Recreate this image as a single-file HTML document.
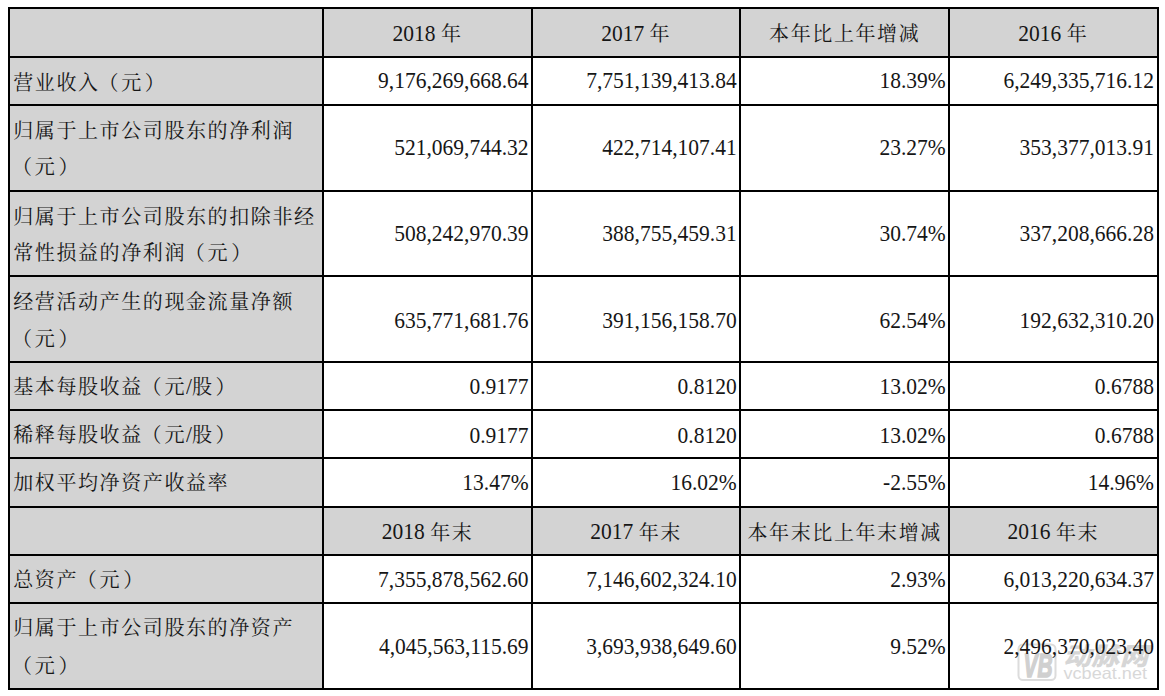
<!DOCTYPE html>
<html lang="zh-CN">
<head>
<meta charset="utf-8">
<title>主要会计数据和财务指标</title>
<style>
html,body{margin:0;padding:0;background:#fff;}
body{width:1165px;height:696px;position:relative;overflow:hidden;
 font-family:"Liberation Serif","Noto Serif CJK SC",serif;font-size:21.5px;color:#161616;}
.g{position:absolute;background:#d3d3d3;}
.l{position:absolute;background:#000;}
.t{position:absolute;white-space:nowrap;line-height:24px;height:24px;}
.c{text-align:center;}
.r{text-align:right;}
.n{display:inline-block;line-height:24px;transform:scaleY(1.06);transform-origin:0 19.26px;}
.z{font-size:20px;letter-spacing:1.6px;}
.pl{position:relative;left:-1.2px;}
.pr{position:relative;left:2px;}
.h .z{position:relative;top:0.4px;}
.h0 .z{top:-0.3px;}
</style>
</head>
<body>
<div class="g" style="left:8px;top:7px;width:314.1px;height:683px"></div>
<div class="g" style="left:8px;top:7px;width:1150.5px;height:49px"></div>
<div class="g" style="left:8px;top:506px;width:1150.5px;height:48px"></div>
<div class="l" style="left:8px;top:7px;width:2px;height:683px"></div>
<div class="l" style="left:322.1px;top:7px;width:2px;height:683px"></div>
<div class="l" style="left:531.1px;top:7px;width:2px;height:683px"></div>
<div class="l" style="left:739.2px;top:7px;width:2px;height:683px"></div>
<div class="l" style="left:948.2px;top:7px;width:2px;height:683px"></div>
<div class="l" style="left:1156.5px;top:7px;width:2px;height:683px"></div>
<div class="l" style="left:8px;top:7px;width:1150.5px;height:2px"></div>
<div class="l" style="left:8px;top:56px;width:1150.5px;height:2px"></div>
<div class="l" style="left:8px;top:104px;width:1150.5px;height:2px"></div>
<div class="l" style="left:8px;top:190px;width:1150.5px;height:2px"></div>
<div class="l" style="left:8px;top:275px;width:1150.5px;height:2px"></div>
<div class="l" style="left:8px;top:361px;width:1150.5px;height:2px"></div>
<div class="l" style="left:8px;top:409px;width:1150.5px;height:2px"></div>
<div class="l" style="left:8px;top:457px;width:1150.5px;height:2px"></div>
<div class="l" style="left:8px;top:506px;width:1150.5px;height:2px"></div>
<div class="l" style="left:8px;top:554px;width:1150.5px;height:2px"></div>
<div class="l" style="left:8px;top:602px;width:1150.5px;height:2px"></div>
<div class="l" style="left:8px;top:688px;width:1150.5px;height:2px"></div>
<svg class="wm" style="position:absolute;left:1012px;top:638px" width="146" height="48" viewBox="0 0 146 48">
<rect x="6.5" y="6.5" width="37" height="35.5" rx="4.5" ry="4.5" fill="none" stroke="#dcdcdc" stroke-width="2"/>
<text x="26" y="38.5" text-anchor="middle" font-family="'Liberation Sans',sans-serif" font-weight="bold" font-style="italic" font-size="33" textLength="29" lengthAdjust="spacingAndGlyphs" fill="#d0d0d0" stroke="#d0d0d0" stroke-width="1.6">VB</text>
<text x="51" y="26.5" font-family="'Noto Sans CJK SC','WenQuanYi Zen Hei',sans-serif" font-weight="900" font-style="italic" font-size="25" textLength="85" lengthAdjust="spacingAndGlyphs" fill="#d6d6d6">动脉网</text>
<text x="51.5" y="40.5" font-family="'Liberation Sans',sans-serif" font-size="16.5" textLength="83.5" lengthAdjust="spacingAndGlyphs" fill="#d8d8d8">vcbeat.net</text>
</svg>
<div class="t c h h0" style="left:324.1px;width:207px;top:22.14px"><span class="n">2018&nbsp;</span><span class="z">年</span></div>
<div class="t c h h0" style="left:533.1px;width:206.1px;top:22.14px"><span class="n">2017&nbsp;</span><span class="z">年</span></div>
<div class="t c h h0" style="left:741.2px;width:207px;top:22.14px"><span class="z">本年比上年增减</span></div>
<div class="t c h h0" style="left:950.2px;width:206.3px;top:22.14px"><span class="n">2016&nbsp;</span><span class="z">年</span></div>
<div class="t" style="left:13.2px;top:70.84px"><span class="z">营业收入<span class="pl">（</span>元<span class="pr">）</span></span></div>
<div class="t r" style="left:324.1px;width:204.5px;top:69.44px"><span class="n">9,176,269,668.64</span></div>
<div class="t r" style="left:533.1px;width:203.6px;top:69.44px"><span class="n">7,751,139,413.84</span></div>
<div class="t r" style="left:741.2px;width:204.5px;top:69.44px"><span class="n">18.39%</span></div>
<div class="t r" style="left:950.2px;width:203.8px;top:69.44px"><span class="n">6,249,335,716.12</span></div>
<div class="t" style="left:13.2px;top:118.59px"><span class="z">归属于上市公司股东的净利润</span></div>
<div class="t" style="left:13.2px;top:154.79px"><span class="z"><span class="pl">（</span>元<span class="pr">）</span></span></div>
<div class="t r" style="left:324.1px;width:204.5px;top:136.34px"><span class="n">521,069,744.32</span></div>
<div class="t r" style="left:533.1px;width:203.6px;top:136.34px"><span class="n">422,714,107.41</span></div>
<div class="t r" style="left:741.2px;width:204.5px;top:136.34px"><span class="n">23.27%</span></div>
<div class="t r" style="left:950.2px;width:203.8px;top:136.34px"><span class="n">353,377,013.91</span></div>
<div class="t" style="left:13.2px;top:204.69px"><span class="z">归属于上市公司股东的扣除非经</span></div>
<div class="t" style="left:13.2px;top:241.49px"><span class="z">常性损益的净利润<span class="pl">（</span>元<span class="pr">）</span></span></div>
<div class="t r" style="left:324.1px;width:204.5px;top:222.24px"><span class="n">508,242,970.39</span></div>
<div class="t r" style="left:533.1px;width:203.6px;top:222.24px"><span class="n">388,755,459.31</span></div>
<div class="t r" style="left:741.2px;width:204.5px;top:222.24px"><span class="n">30.74%</span></div>
<div class="t r" style="left:950.2px;width:203.8px;top:222.24px"><span class="n">337,208,666.28</span></div>
<div class="t" style="left:13.2px;top:289.89px"><span class="z">经营活动产生的现金流量净额</span></div>
<div class="t" style="left:13.2px;top:326.99px"><span class="z"><span class="pl">（</span>元<span class="pr">）</span></span></div>
<div class="t r" style="left:324.1px;width:204.5px;top:308.74px"><span class="n">635,771,681.76</span></div>
<div class="t r" style="left:533.1px;width:203.6px;top:308.74px"><span class="n">391,156,158.70</span></div>
<div class="t r" style="left:741.2px;width:204.5px;top:308.74px"><span class="n">62.54%</span></div>
<div class="t r" style="left:950.2px;width:203.8px;top:308.74px"><span class="n">192,632,310.20</span></div>
<div class="t" style="left:13.2px;top:375.04px"><span class="z">基本每股收益<span class="pl">（</span>元</span><span class="n">/</span><span class="z">股<span class="pr">）</span></span></div>
<div class="t r" style="left:324.1px;width:204.5px;top:375.44px"><span class="n">0.9177</span></div>
<div class="t r" style="left:533.1px;width:203.6px;top:375.44px"><span class="n">0.8120</span></div>
<div class="t r" style="left:741.2px;width:204.5px;top:375.44px"><span class="n">13.02%</span></div>
<div class="t r" style="left:950.2px;width:203.8px;top:375.44px"><span class="n">0.6788</span></div>
<div class="t" style="left:13.2px;top:422.84px"><span class="z">稀释每股收益<span class="pl">（</span>元</span><span class="n">/</span><span class="z">股<span class="pr">）</span></span></div>
<div class="t r" style="left:324.1px;width:204.5px;top:423.54px"><span class="n">0.9177</span></div>
<div class="t r" style="left:533.1px;width:203.6px;top:423.54px"><span class="n">0.8120</span></div>
<div class="t r" style="left:741.2px;width:204.5px;top:423.54px"><span class="n">13.02%</span></div>
<div class="t r" style="left:950.2px;width:203.8px;top:423.54px"><span class="n">0.6788</span></div>
<div class="t" style="left:13.2px;top:471.04px"><span class="z">加权平均净资产收益率</span></div>
<div class="t r" style="left:324.1px;width:204.5px;top:471.04px"><span class="n">13.47%</span></div>
<div class="t r" style="left:533.1px;width:203.6px;top:471.04px"><span class="n">16.02%</span></div>
<div class="t r" style="left:741.2px;width:204.5px;top:471.04px"><span class="n">-2.55%</span></div>
<div class="t r" style="left:950.2px;width:203.8px;top:471.04px"><span class="n">14.96%</span></div>
<div class="t c h" style="left:324.1px;width:207px;top:520.34px"><span class="n">2018&nbsp;</span><span class="z">年末</span></div>
<div class="t c h" style="left:533.1px;width:206.1px;top:520.34px"><span class="n">2017&nbsp;</span><span class="z">年末</span></div>
<div class="t c h" style="left:741.2px;width:207px;top:520.34px"><span class="z">本年末比上年末增减</span></div>
<div class="t c h" style="left:950.2px;width:206.3px;top:520.34px"><span class="n">2016&nbsp;</span><span class="z">年末</span></div>
<div class="t" style="left:13.2px;top:568.44px"><span class="z">总资产<span class="pl">（</span>元<span class="pr">）</span></span></div>
<div class="t r" style="left:324.1px;width:204.5px;top:568.44px"><span class="n">7,355,878,562.60</span></div>
<div class="t r" style="left:533.1px;width:203.6px;top:568.44px"><span class="n">7,146,602,324.10</span></div>
<div class="t r" style="left:741.2px;width:204.5px;top:568.44px"><span class="n">2.93%</span></div>
<div class="t r" style="left:950.2px;width:203.8px;top:568.44px"><span class="n">6,013,220,634.37</span></div>
<div class="t" style="left:13.2px;top:616.19px"><span class="z">归属于上市公司股东的净资产</span></div>
<div class="t" style="left:13.2px;top:653.69px"><span class="z"><span class="pl">（</span>元<span class="pr">）</span></span></div>
<div class="t r" style="left:324.1px;width:204.5px;top:635.44px"><span class="n">4,045,563,115.69</span></div>
<div class="t r" style="left:533.1px;width:203.6px;top:635.44px"><span class="n">3,693,938,649.60</span></div>
<div class="t r" style="left:741.2px;width:204.5px;top:635.44px"><span class="n">9.52%</span></div>
<div class="t r" style="left:950.2px;width:203.8px;top:635.44px"><span class="n">2,496,370,023.40</span></div>
</body>
</html>
